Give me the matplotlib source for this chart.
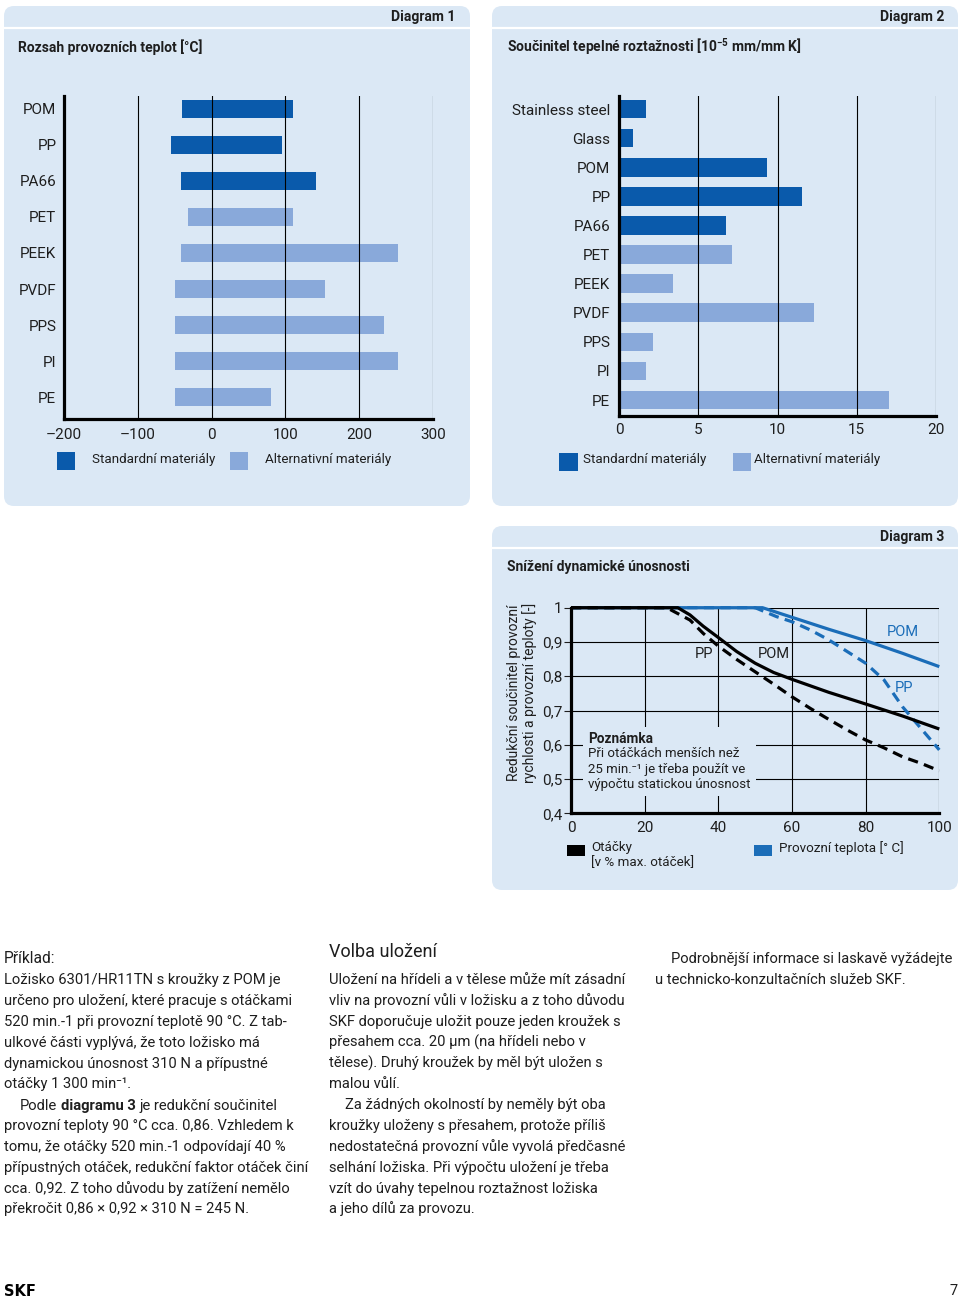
import numpy as np
import matplotlib
matplotlib.use('Agg')
import matplotlib.pyplot as plt
from matplotlib.patches import FancyBboxPatch, Rectangle
from matplotlib.transforms import Bbox, IdentityTransform

plt.rcParams['font.family'] = ['Roboto', 'DejaVu Sans']
plt.rcParams['mathtext.fontset'] = 'custom'
plt.rcParams['mathtext.rm'] = 'Roboto'
plt.rcParams['mathtext.bf'] = 'Roboto:bold'
plt.rcParams['mathtext.it'] = 'Roboto:italic'
plt.rcParams['axes.unicode_minus'] = False

# ---------------- data ----------------
# Diagram 1: operating temperature range [°C]
cats1 = ['POM', 'PP', 'PA66', 'PET', 'PEEK', 'PVDF', 'PPS', 'PI', 'PE']
low1 = [-40, -55, -42, -32, -42, -50, -50, -50, -50]
high1 = [110, 95, 141, 110, 252, 154, 233, 252, 80]
std1 = [True, True, True, False, False, False, False, False, False]
ticks1 = [-200, -100, 0, 100, 200, 300]
ticklabels1 = ['–200', '–100', '0', '100', '200', '300']

# Diagram 2: thermal expansion coefficient [1e-5 mm/mm K]
cats2 = ['Stainless steel', 'Glass', 'POM', 'PP', 'PA66', 'PET', 'PEEK',
         'PVDF', 'PPS', 'PI', 'PE']
vals2 = [1.69, 0.89, 9.32, 11.53, 6.74, 7.12, 3.41, 12.31, 2.11, 1.69, 17.05]
std2 = [True, True, True, True, True, False, False, False, False, False, False]
ticks2 = [0, 5, 10, 15, 20]

# Diagram 3: reduction factor
spd_pom_x = [0, 29, 32.3, 35.9, 40, 45, 50, 55, 60, 70, 80, 90, 100]
spd_pom_y = [1, 1, 0.979, 0.946, 0.913, 0.872, 0.838, 0.811, 0.791, 0.753, 0.719, 0.684, 0.646]
spd_pp_x = [0, 26, 32.3, 35.9, 40, 45, 50, 55, 60, 65, 70, 75, 80, 85, 90, 95, 100]
spd_pp_y = [1, 1, 0.964, 0.925, 0.888, 0.849, 0.813, 0.777, 0.740, 0.706, 0.674, 0.643,
            0.614, 0.591, 0.565, 0.546, 0.524]
tmp_pom_x = [0, 52, 60, 70, 80, 90, 100]
tmp_pom_y = [1, 1, 0.972, 0.937, 0.904, 0.867, 0.828]
tmp_pp_x = [0, 50, 55.8, 60, 65, 70, 75, 80, 85, 90, 95, 100]
tmp_pp_y = [1, 1, 0.974, 0.959, 0.935, 0.906, 0.872, 0.838, 0.789, 0.711, 0.648, 0.585]
ticks3x = [0, 20, 40, 60, 80, 100]
ticks3y = [0.4, 0.5, 0.6, 0.7, 0.8, 0.9, 1.0]
ticklabels3y = ['0,4', '0,5', '0,6', '0,7', '0,8', '0,9', '1']

# ---------------- style ----------------
PANEL = '#dbe8f5'
STD = '#0a5aab'
ALT = '#89a9da'
BLUE = '#1b6db8'
TXT = '#1e1e1e'
W, H = 960, 1300

fig = plt.figure(figsize=(W / 100, H / 100), dpi=100)
fig.patch.set_facecolor('white')
renderer = fig.canvas.get_renderer()
bg = fig.add_axes([0, 0, 1, 1])
bg.set_xlim(0, W)
bg.set_ylim(H, 0)
bg.axis('off')
bg.set_zorder(0)


def panel(x0, y0, x1, y1, ysep):
    p = FancyBboxPatch((x0, y0), x1 - x0, y1 - y0,
                       boxstyle='round,pad=0,rounding_size=10',
                       facecolor=PANEL, edgecolor='none')
    bg.add_patch(p)
    bg.plot([x0, x1], [ysep, ysep], color='white', lw=1.6)


panel(4, 6, 470, 506, 28)
panel(492, 6, 958, 506, 28)
panel(492, 526, 958, 890, 548)

bg.text(455, 17, 'Diagram 1', fontsize=10, fontweight='bold', ha='right', va='center', color=TXT)
bg.text(944, 17, 'Diagram 2', fontsize=10, fontweight='bold', ha='right', va='center', color=TXT)
bg.text(944, 537, 'Diagram 3', fontsize=10, fontweight='bold', ha='right', va='center', color=TXT)
bg.text(18, 47, 'Rozsah provozních teplot [°C]', fontsize=10, fontweight='bold',
        ha='left', va='center', color=TXT)
bg.text(507, 47, r'Součinitel tepelné roztažnosti [10$^{\mathbf{-5}}$ mm/mm K]', fontsize=10,
        fontweight='bold', ha='left', va='center', color=TXT)
bg.text(507, 567, 'Snížení dynamické únosnosti', fontsize=10, fontweight='bold',
        ha='left', va='center', color=TXT)


def ax_px(l, r, t, b):
    a = fig.add_axes([l / W, 1 - b / H, (r - l) / W, (b - t) / H])
    a.set_zorder(1)
    a.patch.set_visible(False)
    return a


def style_spines(a):
    for s in ['top', 'right']:
        a.spines[s].set_visible(False)
    for s in ['left', 'bottom']:
        a.spines[s].set_linewidth(2.3)
        a.spines[s].set_color('black')
        a.spines[s].set_zorder(5)


LEG = 9.6

# ---------- Diagram 1 ----------
ax1 = ax_px(64, 433, 96, 419)
y1 = np.arange(len(cats1))
ax1.barh(y1, np.array(high1) - np.array(low1), left=low1, height=0.5,
         color=[STD if s else ALT for s in std1], zorder=2)
for t in ticks1[1:]:
    ax1.axvline(t, color='black', lw=0.8, zorder=3)
ax1.set_xlim(-200, 300)
ax1.set_ylim(len(cats1) - 1 + 0.61, -0.36)
ax1.set_xticks(ticks1)
ax1.set_xticklabels(ticklabels1)
ax1.set_yticks(y1)
ax1.set_yticklabels(cats1)
ax1.tick_params(axis='x', length=0, labelsize=11, pad=6.5, colors=TXT)
ax1.tick_params(axis='y', length=0, labelsize=11, pad=5.5, colors=TXT)
style_spines(ax1)

bg.add_patch(Rectangle((57, 452), 18, 18, facecolor=STD, edgecolor='none'))
bg.add_patch(Rectangle((230, 452), 18, 18, facecolor=ALT, edgecolor='none'))
bg.text(92, 460, 'Standardní materiály', fontsize=LEG, va='center', color=TXT)
bg.text(265, 460, 'Alternativní materiály', fontsize=LEG, va='center', color=TXT)

# ---------- Diagram 2 ----------
ax2 = ax_px(619.3, 935.7, 96, 416)
y2 = np.arange(len(cats2))
ax2.barh(y2, vals2, height=0.64, color=[STD if s else ALT for s in std2], zorder=2)
for t in ticks2[1:]:
    ax2.axvline(t, color='black', lw=0.8, zorder=3)
ax2.set_xlim(0, 20)
ax2.set_ylim(len(cats2) - 1 + 0.55, -0.45)
ax2.set_xticks(ticks2)
ax2.set_yticks(y2)
ax2.set_yticklabels(cats2)
ax2.tick_params(axis='x', length=0, labelsize=11, pad=5, colors=TXT)
ax2.tick_params(axis='y', length=0, labelsize=11, pad=6.5, colors=TXT)
style_spines(ax2)

bg.add_patch(Rectangle((559, 453), 19, 18, facecolor=STD, edgecolor='none'))
bg.add_patch(Rectangle((733, 453), 18, 18, facecolor=ALT, edgecolor='none'))
bg.text(583, 460, 'Standardní materiály', fontsize=LEG, va='center', color=TXT)
bg.text(754, 460, 'Alternativní materiály', fontsize=LEG, va='center', color=TXT)

# ---------- Diagram 3 ----------
ax3 = ax_px(571, 939.3, 607.7, 813.3)
for t in ticks3x[1:]:
    ax3.axvline(t, color='black', lw=0.8, zorder=1)
for t in ticks3y[1:]:
    ax3.axhline(t, color='black', lw=0.8, zorder=1)
ax3.plot(tmp_pom_x, tmp_pom_y, color=BLUE, lw=2.3, zorder=3, solid_capstyle='butt', clip_on=False)
ax3.plot(tmp_pp_x, tmp_pp_y, color=BLUE, lw=2.3, ls=(0, (3.2, 2.0)), zorder=3, clip_on=False)
ax3.plot(spd_pom_x, spd_pom_y, color='black', lw=2.3, zorder=4, solid_capstyle='butt', clip_on=False)
ax3.plot(spd_pp_x, spd_pp_y, color='black', lw=2.3, ls=(0, (3.2, 2.0)), zorder=4, clip_on=False)
ax3.set_xlim(0, 100)
ax3.set_ylim(0.4, 1.0)
ax3.set_xticks(ticks3x)
ax3.set_yticks(ticks3y)
ax3.set_yticklabels(ticklabels3y)
ax3.tick_params(axis='x', length=0, labelsize=11, pad=5.5, colors=TXT)
ax3.tick_params(axis='y', length=5, width=0.8, direction='out', labelsize=11, pad=1, colors=TXT)
style_spines(ax3)

ax3.text(36.2, 0.864, 'PP', fontsize=10.5, ha='center', va='center', color=TXT, zorder=6)
ax3.text(55, 0.864, 'POM', fontsize=10.5, ha='center', va='center', color=TXT, zorder=6)
ax3.text(90.2, 0.93, 'POM', fontsize=10.5, ha='center', va='center', color=BLUE, zorder=6)
ax3.text(90.5, 0.767, 'PP', fontsize=10.5, ha='center', va='center', color=BLUE, zorder=6)

NOTE = 9.5
note = [
    ax3.text(4.7, 0.606, 'Poznámka', fontsize=NOTE + 0.3, fontweight='bold', ha='left',
             va='baseline', color=TXT, zorder=6),
    ax3.text(4.7, 0.563, 'Při otáčkách menších než', fontsize=NOTE, ha='left',
             va='baseline', color=TXT, zorder=6),
    ax3.text(4.7, 0.519, '25 min.⁻¹ je třeba použít ve', fontsize=NOTE, ha='left',
             va='baseline', color=TXT, zorder=6),
    ax3.text(4.7, 0.475, 'výpočtu statickou únosnost', fontsize=NOTE, ha='left',
             va='baseline', color=TXT, zorder=6),
]
nb = Bbox.union([t.get_window_extent(renderer) for t in note])
PADX, PADY = 5, 5
mask = Rectangle((nb.x0 - PADX, nb.y0 - PADY), nb.width + 2 * PADX, nb.height + 2 * PADY,
                 transform=IdentityTransform(), facecolor=PANEL, edgecolor='none', zorder=2)
ax3.add_artist(mask)

bg.text(522, 693, 'Redukční součinitel provozní\nrychlosti a provozní teploty [-]',
        fontsize=10, rotation=90, ha='center', va='center', linespacing=1.15, color=TXT)
bg.add_patch(Rectangle((567, 845), 17.5, 11, facecolor='black', edgecolor='none'))
bg.add_patch(Rectangle((754, 845), 18, 11, facecolor=BLUE, edgecolor='none'))
bg.text(591, 848, 'Otáčky', fontsize=LEG, va='center', color=TXT)
bg.text(591, 863, '[v % max. otáček]', fontsize=LEG, va='center', color=TXT)
bg.text(779, 848, 'Provozní teplota [° C]', fontsize=LEG, va='center', color=TXT)

# ---------------- page text ----------------
BODY = 10.6


def line(x, yc, s, size=BODY, weight='normal'):
    return bg.text(x, yc + 5, s, fontsize=size, fontweight=weight, ha='left',
                   va='baseline', color=TXT)


def width(t):
    return t.get_window_extent(renderer).width


_t1 = bg.text(100, 100, 'a a', fontsize=BODY)
_t2 = bg.text(100, 100, 'aa', fontsize=BODY)
SP = width(_t1) - width(_t2)
_t1.remove()
_t2.remove()

col1 = [
    'Ložisko 6301/HR11TN s kroužky z POM je',
    'určeno pro uložení, které pracuje s otáčkami',
    '520 min.-1 při provozní teplotě 90 °C. Z tab-',
    'ulkové části vyplývá, že toto ložisko má',
    'dynamickou únosnost 310 N a přípustné',
    'otáčky 1 300 min⁻¹.',
]
col1b = [
    'provozní teploty 90 °C cca. 0,86. Vzhledem k',
    'tomu, že otáčky 520 min.-1 odpovídají 40 %',
    'přípustných otáček, redukční faktor otáček činí',
    'cca. 0,92. Z toho důvodu by zatížení nemělo',
    'překročit 0,86 × 0,92 × 310 N = 245 N.',
]
line(4, 958, 'Příklad:', size=11.2)
for y, s in zip([979, 1000, 1021, 1042, 1063, 1083], col1):
    line(4, y, s)
t_a = line(20, 1105, 'Podle')
x = 20 + width(t_a) + SP
t_b = line(x, 1105, 'diagramu 3', weight='bold')
x = x + width(t_b) + SP
line(x, 1105, 'je redukční součinitel')
for y, s in zip([1125, 1146, 1167, 1188, 1208], col1b):
    line(4, y, s)

bg.text(329, 957, 'Volba uložení', fontsize=13, ha='left', va='baseline', color=TXT)
col2 = [
    'Uložení na hřídeli a v tělese může mít zásadní',
    'vliv na provozní vůli v ložisku a z toho důvodu',
    'SKF doporučuje uložit pouze jeden kroužek s',
    'přesahem cca. 20 µm (na hřídeli nebo v',
    'tělese). Druhý kroužek by měl být uložen s',
    'malou vůlí.',
]
for y, s in zip([979, 1000, 1021, 1042, 1063, 1083], col2):
    line(329, y, s)
line(345, 1104, 'Za žádných okolností by neměly být oba')
col2b = [
    'kroužky uloženy s přesahem, protože příliš',
    'nedostatečná provozní vůle vyvolá předčasné',
    'selhání ložiska. Při výpočtu uložení je třeba',
    'vzít do úvahy tepelnou roztažnost ložiska',
    'a jeho dílů za provozu.',
]
for y, s in zip([1125, 1146, 1167, 1188, 1208], col2b):
    line(329, y, s)

line(671, 958, 'Podrobnější informace si laskavě vyžádejte')
line(655, 979, 'u technicko-konzultačních služeb SKF.')

bg.text(4, 1291, 'SKF', fontsize=10.5, fontweight='black', family=['DejaVu Sans'],
        ha='left', va='center', color='black')
bg.text(958, 1291, '7', fontsize=10.5, ha='right', va='center', color=TXT)

fig.savefig('out.png', dpi=100)
